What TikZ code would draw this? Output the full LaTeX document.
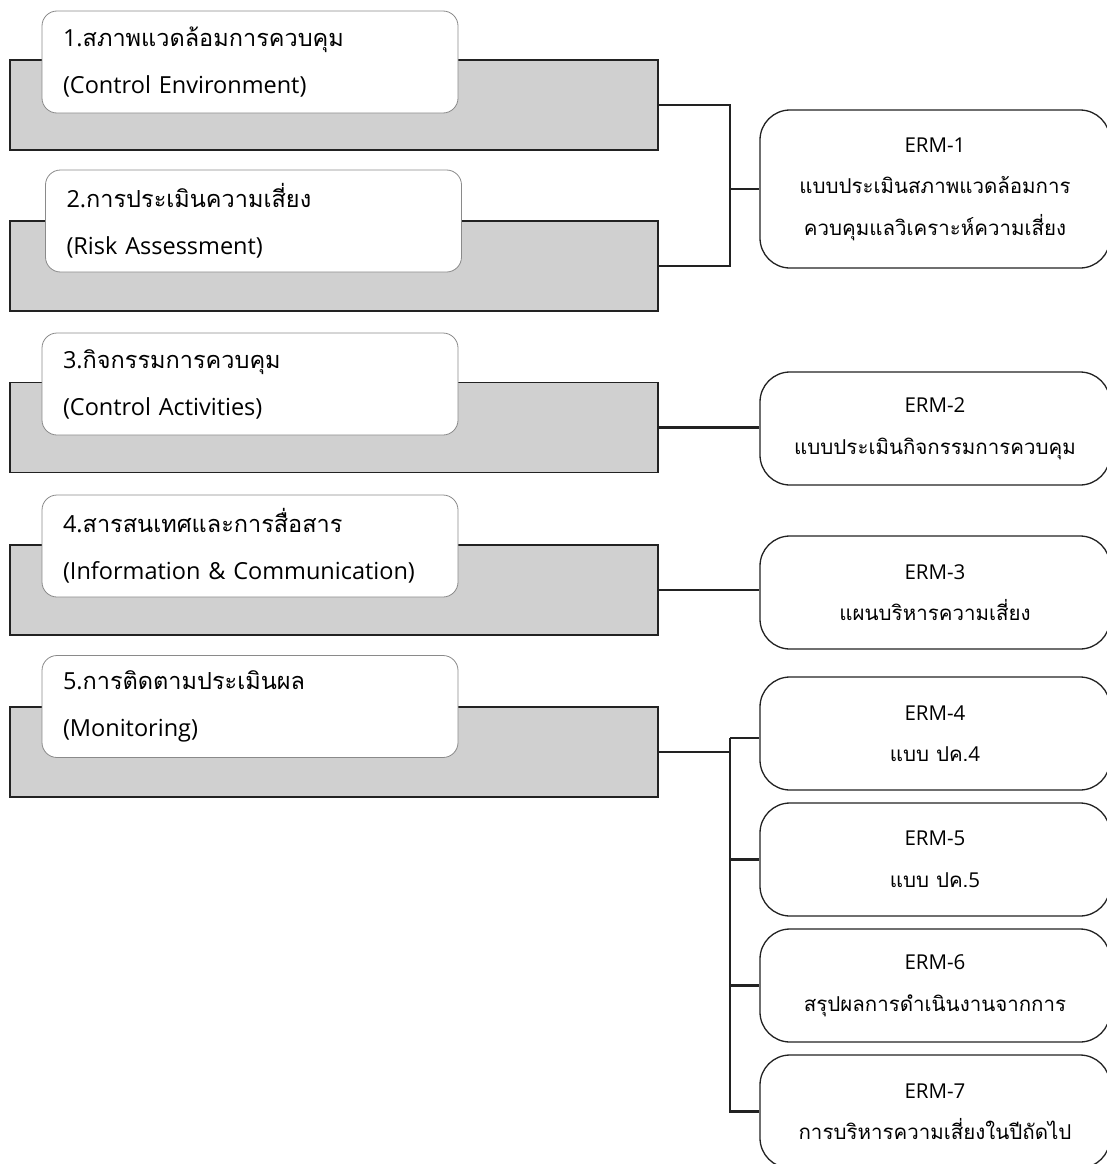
\documentclass[tikz,border=0pt]{standalone}
\usepackage{fontspec}
\setmainfont{Open Sans}
\newfontfamily\thai[Script=Thai]{Loma}
\definecolor{boxgray}{HTML}{D0D0D0}
\definecolor{edgegray}{HTML}{8A8A8A}
\definecolor{inkk}{HTML}{222222}
\begin{document}
\begin{tikzpicture}[x=1pt,y=-1pt,
  grect/.style={draw=inkk, line width=1.3pt, fill=boxgray, rectangle, minimum width=648pt, minimum height=90pt, inner sep=0pt},
  wbox/.style={draw=edgegray, line width=0.8pt, fill=white, rounded corners=15pt, align=left, text width=374pt, inner xsep=21pt, inner ysep=0pt, minimum height=102pt, font=\fontsize{23.5}{47}\selectfont},
  ebox/.style={draw=inkk, line width=1.3pt, fill=white, rounded corners=30pt, align=center, minimum width=350pt, minimum height=113pt, inner sep=0pt, font=\fontsize{20.5}{41.5}\selectfont},
  thinconn/.style={draw=inkk, line width=1.2pt},
  conn/.style={draw=inkk, line width=2.2pt}]
\useasboundingbox (0,0) rectangle (1106,1164);
% gray bars
\node[grect] (g1) at (334,105) {};
\node[grect] (g2) at (334,266) {};
\node[grect] (g3) at (334,427.5) {};
\node[grect] (g4) at (334,590) {};
\node[grect] (g5) at (334,752) {};
% white labels
\node[wbox] (w1) at (250,62) {1.{\thai สภาพแวดล้อมการควบคุม}\\(Control Environment)};
\node[wbox] (w2) at (253.5,221) {2.{\thai การประเมินความเสี่ยง}\\(Risk Assessment)};
\node[wbox] (w3) at (250,384) {3.{\thai กิจกรรมการควบคุม}\\(Control Activities)};
\node[wbox] (w4) at (250,546) {4.{\thai สารสนเทศและการสื่อสาร}\\(Information \& Communication)};
\node[wbox] (w5) at (250,706.5) {5.{\thai การติดตามประเมินผล}\\(Monitoring)};
% ERM boxes
\node[ebox, minimum height=158pt] (e1) at (935,189) {ERM-1\\{\thai แบบประเมินสภาพแวดล้อมการ}\\{\thai ควบคุมแลวิเคราะห์ความเสี่ยง}};
\node[ebox] (e2) at (935,428.5) {ERM-2\\{\thai แบบประเมินกิจกรรมการควบคุม}};
\node[ebox] (e3) at (935,592.5) {ERM-3\\{\thai แผนบริหารความเสี่ยง}};
\node[ebox] (e4) at (935,733.5) {ERM-4\\{\thai แบบ ปค.}4};
\node[ebox] (e5) at (935,859.5) {ERM-5\\{\thai แบบ ปค.}5};
\node[ebox] (e6) at (935,985.5) {ERM-6\\{\thai สรุปผลการดำเนินงานจากการ}};
\node[ebox] (e7) at (935,1111.5) {ERM-7\\{\thai การบริหารความเสี่ยงในปีถัดไป}};
% connectors
\coordinate (b1) at (730,189);
\draw[thinconn] (g1.east) -- (g1.east -| b1) -- (g2.east -| b1) -- (g2.east);
\draw[thinconn] (b1) -- (e1.west);
\draw[conn] (g3.east) -- (e2.west |- g3.east);
\draw[conn] (g4.east) -- (e3.west |- g4.east);
\coordinate (b5) at (730,752);
\coordinate (t4) at (730,738);
\draw[conn] (g5.east) -- (b5);
\draw[conn] (t4) -- (t4 -| e4.west);
\draw[conn] (t4) -- (b5 |- e7.west) -- (e7.west);
\draw[conn] (b5 |- e5.west) -- (e5.west);
\draw[conn] (b5 |- e6.west) -- (e6.west);
\end{tikzpicture}
\end{document}
